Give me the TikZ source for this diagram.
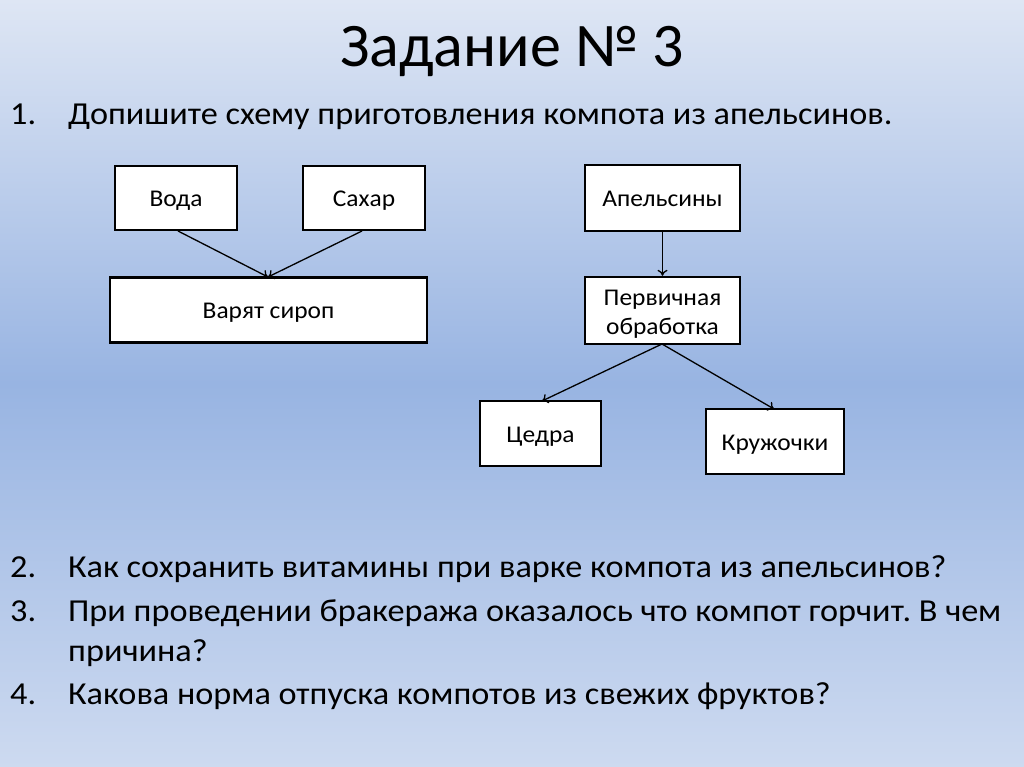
\documentclass[tikz,border=0pt]{standalone}
\usepackage{fontspec}
\setmainfont{Carlito}
\newfontfamily\bodyfont{Carlito}[FakeStretch=1.07]
\newfontfamily\boxfont{Carlito}[FakeStretch=1.06]
\usetikzlibrary{arrows.meta}
\frenchspacing
\definecolor{bgtop}{RGB}{222,230,244}
\definecolor{bgmid}{RGB}{152,180,226}
\definecolor{bgbot}{RGB}{205,218,240}
\tikzset{
  box/.style={draw=black, line width=2.4pt, fill=white, align=center, font=\boxfont\fontsize{24}{29}\selectfont, inner sep=0pt},
  oneline/.style={text height=22.6pt, text depth=5pt},
  boxtext/.style={align=center, font=\boxfont\fontsize{24}{29}\selectfont, inner sep=0pt},
  conn/.style={draw=black, line width=1.3pt, -{To[length=6pt,width=10pt]}},
  item/.style={anchor=base west, font=\bodyfont\fontsize{32}{38}\selectfont, inner sep=0pt},
}
\begin{document}
\begin{tikzpicture}[x=1pt,y=-1pt]
\useasboundingbox (0,0) rectangle (1024,767);
\shade[top color=bgtop, bottom color=bgbot, middle color=bgmid] (0,0) rectangle (1024,767);
\node[font=\fontsize{62}{66}\selectfont, inner sep=0pt, anchor=base] (title) at (512,67) {Задание № 3};

\node[item] (n1) at (10,125) {1.};
\node[item] (t1) at (68,125) {Допишите схему приготовления компота из апельсинов.};

\node[box, oneline, minimum width=122pt, minimum height=64pt] (voda) at (176,198) {Вода};
\node[box, oneline, minimum width=122pt, minimum height=64pt] (sahar) at (364,198) {Сахар};
\node[box, oneline, minimum width=317pt, minimum height=65pt] (sirop) at (268.5,310) {Варят сироп};
\node[box, oneline, minimum width=155pt, minimum height=66pt] (apel) at (662.5,198) {Апельсины};
\node[box, minimum width=155pt, minimum height=67pt] (perv) at (662.5,310.5) {};
\node[boxtext] (pervt) at ([yshift=-3.5pt]perv.center) {Первичная\\обработка};
\node[box, oneline, minimum width=121pt, minimum height=65pt] (cedra) at (540.5,433.5) {Цедра};
\node[box, oneline, minimum width=138pt, minimum height=65pt] (kruzh) at (775,441.5) {Кружочки};

\coordinate (vs) at (178,231);
\coordinate (ss) at (362,231);
\coordinate (se) at (268,277);
\draw[conn] (vs) -- (se);
\draw[conn] (ss) -- (se);
\draw[conn] (apel.south) -- (perv.north);
\coordinate (ps) at (662,344);
\coordinate (ce) at (542,401);
\coordinate (ke) at (774,409);
\draw[conn] (ps) -- (ce);
\draw[conn] (ps) -- (ke);

\node[item] (n2) at (10,577) {2.};
\node[item] (t2) at (68,577) {Как сохранить витамины при варке компота из апельсинов?};
\node[item] (n3) at (10,621) {3.};
\node[item] (t3) at (68,621) {При проведении бракеража оказалось что компот горчит. В чем};
\node[item] (t3b) at (68,661) {причина?};
\node[item] (n4) at (10,704) {4.};
\node[item] (t4) at (68,704) {Какова норма отпуска компотов из свежих фруктов?};
\end{tikzpicture}
\end{document}
